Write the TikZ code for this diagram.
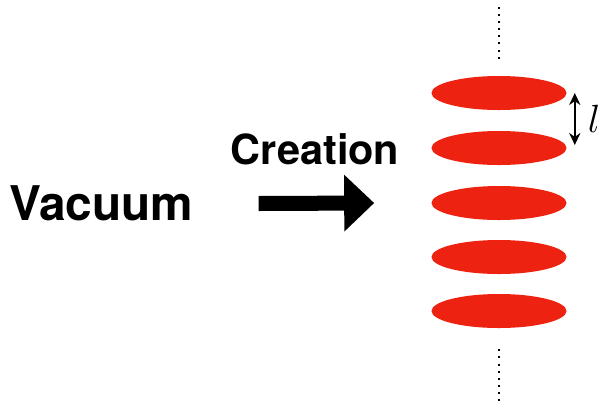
\RequirePackage{fix-cm}
\documentclass[tikz,border=0pt]{standalone}
\usepackage{fontspec}
\setsansfont{TeX Gyre Heros}
\usepackage{xcolor}
\definecolor{discred}{HTML}{EE2210}
\usepackage{tikz}
\usetikzlibrary{shapes.geometric,arrows.meta,positioning,calc}

\begin{document}
\begin{tikzpicture}[x=0.025cm, y=-0.025cm,
    disc/.style={ellipse, fill=discred, minimum width=3.375cm, minimum height=0.85cm, inner sep=0pt},
    bigword/.style={font=\sffamily\bfseries\fontsize{34}{40}\selectfont, inner sep=0pt},
    dotline/.style={line width=0.045cm, dash pattern=on 0.05cm off 0.128cm},
  ]
    \useasboundingbox (0,0) rectangle (600,403);
    \foreach \i/\y in {1/93,2/148,3/203,4/257,5/311}
      \node[disc] (d\i) at (499,\y) {};
    \node[bigword] (vacuum) at (101.5,203.5) {Vacuum};
    \node[bigword, font=\sffamily\bfseries\fontsize{29.5}{34}\selectfont, anchor=base] (creation) at (315,164) {Creation};
    \draw[line width=0.375cm, -{Triangle[length=0.75cm, width=1.375cm]}] ($(vacuum.east)+(65,0)$) -- ($(d3.west)+(-57,0)$);
    \coordinate (ltop) at ($(d1.east)+(8,0)$);
    \coordinate (lbot) at ($(d2.east)+(8,-3)$);
    \draw[{Stealth[length=0.3cm, width=0.28cm]}-{Stealth[length=0.3cm, width=0.28cm]}, line width=0.05cm] (ltop) -- (lbot);
    \node[font=\fontsize{28}{30}\selectfont, inner sep=0pt, anchor=west] (len) at (587.5,119) {$l$};
    \coordinate (topend) at (499,7);
    \coordinate (botend) at (499,403);
    \draw[dotline] ($(d1.north)+(0,-17)$) -- (topend);
    \draw[dotline] ($(d5.south)+(0,21)$) -- (botend);
  \end{tikzpicture}
\end{document}
